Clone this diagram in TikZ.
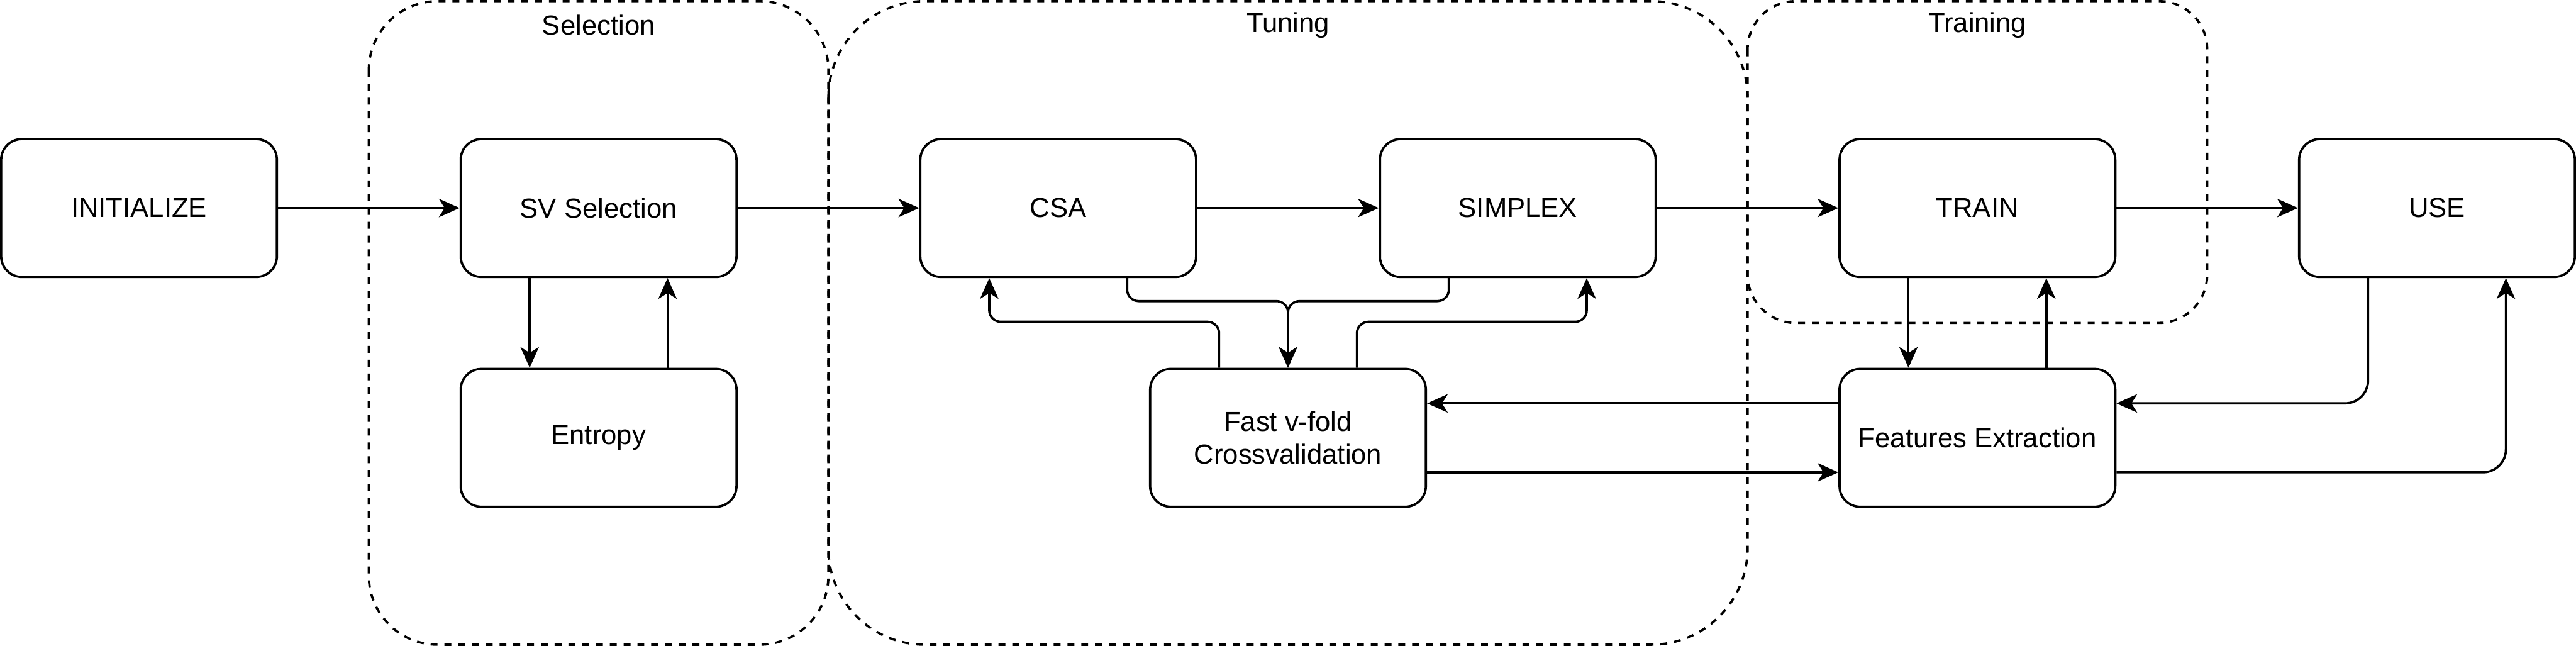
\documentclass[tikz,border=0pt]{standalone}
\usepackage{fontspec}
\setmainfont{Liberation Sans}
\usetikzlibrary{arrows.meta}

\begin{document}
\begin{tikzpicture}[x=1bp, y=-1bp, line width=1bp,
  font=\fontsize{12}{14.4}\selectfont,
  block/.style={draw, fill=white, rounded corners=9bp, minimum width=120bp, minimum height=60bp, align=center, inner sep=2bp},
  group/.style={draw, dash pattern=on 3bp off 3bp},
  flow/.style={-{Stealth[length=9bp,width=8bp,inset=2.5bp]}, rounded corners=5bp}]
\useasboundingbox (0,0) rectangle (1121,281);
% stage groups
\draw [group, rounded corners=30bp] (160.5,0.5) rectangle (360.5,280.5);
\draw [group, rounded corners=42bp] (360.5,0.5) rectangle (760.5,280.5);
\draw [group, rounded corners=21bp] (760.5,0.5) rectangle (960.5,140.5);
\node (selLbl) at (260.5,11) {Selection};
\node (tunLbl) at (560.5,11) {Tuning};
\node (trnLbl) at (860.5,11) {Training};
% blocks
\node [block] (init) at (60.5,90.5) {INITIALIZE};
\node [block] (sv) at (260.5,90.5) {SV Selection};
\node [block] (entropy) at (260.5,190.5) {Entropy};
\node [block] (csa) at (460.5,90.5) {CSA};
\node [block] (simplex) at (660.5,90.5) {SIMPLEX};
\node [block] (train) at (860.5,90.5) {TRAIN};
\node [block] (use) at (1060.5,90.5) {USE};
\node [block] (cv) at (560.5,190.5) {Fast v-fold\\Crossvalidation};
\node [block] (feat) at (860.5,190.5) {Features Extraction};
% main line
\draw [flow] (init) -- (sv);
\draw [flow] (sv) -- (csa);
\draw [flow] (csa) -- (simplex);
\draw [flow] (simplex) -- (train);
\draw [flow] (train) -- (use);
% loops
\draw [flow] ([xshift=-30bp]sv.south) -- ([xshift=-30bp]entropy.north);
\draw [flow] ([xshift=30bp]entropy.north) -- ([xshift=30bp]sv.south);
\draw [flow] ([xshift=30bp]csa.south) -- ++(0,10) -| (cv.north);
\draw [flow] ([xshift=-30bp]simplex.south) -- ++(0,10) -| (cv.north);
\draw [flow] ([xshift=-30bp]cv.north) -- ++(0,-20) -| ([xshift=-30bp]csa.south);
\draw [flow] ([xshift=30bp]cv.north) -- ++(0,-20) -| ([xshift=30bp]simplex.south);
\draw [flow] ([yshift=15bp]feat.west) -- ([yshift=15bp]cv.east);
\draw [flow] ([yshift=-15bp]cv.east) -- ([yshift=-15bp]feat.west);
\draw [flow] ([xshift=-30bp]train.south) -- ([xshift=-30bp]feat.north);
\draw [flow] ([xshift=30bp]feat.north) -- ([xshift=30bp]train.south);
\draw [flow, rounded corners=10bp] ([xshift=-30bp]use.south) |- ([yshift=15bp]feat.east);
\draw [flow, rounded corners=10bp] ([yshift=-15bp]feat.east) -| ([xshift=30bp]use.south);
\end{tikzpicture}
\end{document}
